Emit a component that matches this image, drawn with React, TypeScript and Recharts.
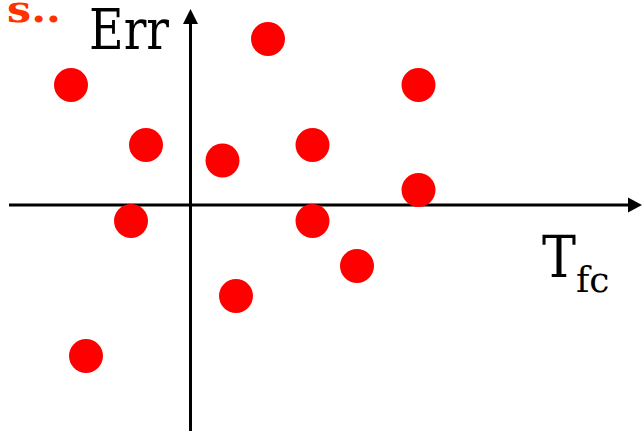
import React from "react";
import { ScatterChart, Scatter, XAxis, YAxis, ReferenceLine } from "recharts";

// Tfc (horizontal) and Err (vertical) values of the points, arbitrary units
const tfcValues = [7.75, -11.95, 22.8, -4.45, 3.2, 12.2, 22.8, -5.95, 12.2, 16.65, 4.55, -10.45];
const errValues = [16.6, 12.0, 12.0, 6.0, 4.45, 6.0, 1.5, -1.6, -1.6, -6.1, -9.1, -15.1];

const xDomain: [number, number] = [-19.05, 45.15];
const yDomain: [number, number] = [-22.6, 20.5];
const xAxisStart = -18.15;
const yAxisTop = 19.6;

const data = tfcValues.map((x, i) => ({ x, y: errValues[i] }));

const W = 642;
const H = 431;
const SERIF = "DejaVu Serif";

const HArrow = (props: any) => {
  const { x1, y1, x2, y2 } = props;
  return (
    <g>
      <line x1={x1} y1={y1} x2={x2 - 13} y2={y2} stroke="#000" strokeWidth={3} />
      <polygon points={`${x2},${y2} ${x2 - 14},${y2 - 7.5} ${x2 - 14},${y2 + 7.5}`} fill="#000" />
    </g>
  );
};

const VArrow = (props: any) => {
  const { x1, y1, x2, y2 } = props;
  const topY = Math.min(y1, y2);
  const botY = Math.max(y1, y2);
  return (
    <g>
      <line x1={x1} y1={botY} x2={x2} y2={topY + 13} stroke="#000" strokeWidth={3} />
      <polygon points={`${x1},${topY} ${x1 - 7.5},${topY + 15} ${x1 + 7.5},${topY + 15}`} fill="#000" />
    </g>
  );
};

const Dot = (props: any) => {
  const { cx, cy } = props;
  return <circle cx={cx} cy={cy} r={17} fill="#FF0000" />;
};

export default function App() {
  return (
    <div style={{ position: "absolute", left: 0, top: 0, width: W, height: H, background: "#fff" }}>
      <ScatterChart width={W} height={H} margin={{ top: 0, right: 0, bottom: 0, left: 0 }}>
        <XAxis type="number" dataKey="x" domain={xDomain} hide allowDataOverflow />
        <YAxis type="number" dataKey="y" domain={yDomain} hide allowDataOverflow />
        <ReferenceLine
          segment={[{ x: xAxisStart, y: 0 }, { x: xDomain[1], y: 0 }]}
          shape={HArrow}
          ifOverflow="visible"
        />
        <ReferenceLine
          segment={[{ x: 0, y: yDomain[0] }, { x: 0, y: yAxisTop }]}
          shape={VArrow}
          ifOverflow="visible"
        />
        <Scatter data={data} shape={Dot} isAnimationActive={false} />
      </ScatterChart>
      <svg
        width={W}
        height={H}
        style={{ position: "absolute", left: 0, top: 0, pointerEvents: "none" }}
      >
        <text
          x={7}
          y={22}
          fontFamily={SERIF}
          fontWeight="bold"
          fontSize={38}
          fill="#FF3300"
          textLength={54}
          lengthAdjust="spacingAndGlyphs"
        >
          s..
        </text>
        <text
          x={89}
          y={49}
          fontFamily={SERIF}
          fontSize={56}
          fill="#000"
          textLength={80}
          lengthAdjust="spacingAndGlyphs"
        >
          Err
        </text>
        <text
          x={542}
          y={277}
          fontFamily={SERIF}
          fontSize={57}
          fill="#000"
          textLength={34}
          lengthAdjust="spacingAndGlyphs"
        >
          T
        </text>
        <text x={576} y={292} fontFamily={SERIF} fontSize={36} fill="#000">
          fc
        </text>
      </svg>
    </div>
  );
}
